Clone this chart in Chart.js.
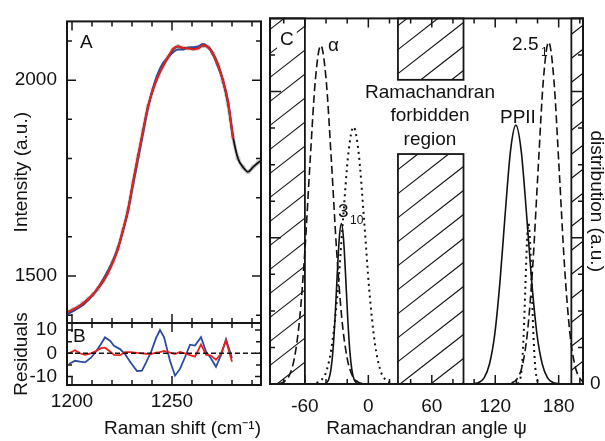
<!DOCTYPE html>
<html>
<head>
<meta charset="utf-8">
<script src="https://cdn.jsdelivr.net/npm/chart.js@4.4.0/dist/chart.umd.min.js"></script>
<style>
  html, body { margin: 0; padding: 0; background: #fff; overflow: hidden; }
  #wrap { position: relative; width: 605px; height: 441px; overflow: hidden; background: #fff; }
  #wrap canvas { position: absolute; left: 0; top: 0; }
</style>
</head>
<body>
<div id="wrap">
  <canvas id="chartA" width="605" height="441"></canvas>
  <canvas id="chartB" width="605" height="441"></canvas>
  <canvas id="chartC" width="612" height="441"></canvas>
</div>
<script>
// ---- panel A: Raman spectrum (data + two fits) ----
const specX = [1198, 1200.5, 1203, 1205.5, 1208, 1210.5, 1213, 1215.5, 1218, 1220.5,
  1223, 1225.5, 1228, 1230.5, 1233, 1235.5, 1238, 1240.5, 1243, 1245.5,
  1248, 1250.5, 1253, 1255.5, 1258, 1260.5, 1263, 1265.5, 1268, 1270.5,
  1273, 1275.5, 1278, 1280.5, 1283, 1285.5, 1288, 1290.5, 1293, 1295.5];
const specData = [1408, 1414, 1421, 1430, 1441, 1453, 1468, 1486, 1508, 1537,
  1571, 1617, 1668, 1738, 1805, 1870, 1932, 1976, 2010, 2036,
  2058, 2078, 2086, 2082, 2082, 2080, 2082, 2088, 2085, 2068,
  2040, 1998, 1940, 1855, 1800, 1778, 1766, 1778, 1789, 1798];
const fitBlue = [1403, 1410, 1418, 1426, 1438, 1452, 1470, 1491, 1514, 1540,
  1573, 1617, 1666, 1733, 1797, 1864, 1930, 1980, 2018, 2044,
  2058, 2071, 2078, 2078, 2083, 2084, 2086, 2092, 2084, 2065,
  2034, 1999, 1945, 1853];
const fitRed = [1408, 1415, 1421, 1430, 1440, 1453, 1470, 1488, 1509, 1536,
  1570, 1617, 1669, 1738, 1805, 1870, 1932, 1976, 2010, 2037,
  2059, 2080, 2086, 2082, 2081, 2079, 2081, 2090, 2084, 2067,
  2037, 1999, 1945, 1851];
const intensityTicks = [1500, 2000];
const intensityMinor = [1400, 1600, 1700, 1800, 1900, 2100];

// ---- panel B: residuals ----
const residX = [1198.5, 1201.5, 1204, 1206.5, 1209.5, 1212, 1214.5, 1216.5, 1219, 1221,
  1224, 1226.5, 1229.5, 1232.5, 1235, 1237, 1239.5, 1242, 1244, 1246,
  1249, 1251.5, 1254, 1256.5, 1259, 1261.5, 1264.5, 1267, 1269.5, 1272,
  1274.5, 1277, 1280];
const residBlue = [-4.6, -3.2, -3.6, -3.9, -1.9, 0.8, 4.0, 6.9, 5.4, 3.2,
  1.8, -0.3, -4.2, -7.6, -7.4, -4.0, 0.5, 6.5, 10.0, 7.0,
  -3.2, -9.6, -6.7, -1.7, 3.7, 3.3, 6.9, 0.8, -2.2, -5.8,
  -0.8, 6.0, -2.0];
const residRed = [0, 1.3, 0, -0.7, 0, 1.0, 2.2, 2.4, 0.8, -0.7,
  -0.8, 0.5, 0.5, 0.2, 0, -0.2, -0.3, 0.3, 0.5, 1.0,
  0.3, -0.3, 0.6, 0, -0.8, -1.4, 3.8, -0.6, -1.0, -2.8,
  -0.2, 5.5, -3.6];
const residTicks = [-10, 0, 10];
const residMinor = [-5, 5];
const ramanTicks = [1200, 1250];
const ramanMinor = [1210, 1220, 1230, 1240, 1260, 1270, 1280, 1290];

// ---- panel C: distributions over Ramachandran angle psi ----
const alphaPsi = [-85, -80, -75, -70, -65, -60, -55, -50, -45, -40, -35, -30, -25, -20, -15, -10, -5];
const alphaVal = [0.001, 0.006, 0.022, 0.070, 0.177, 0.365, 0.613, 0.835, 0.926, 0.835, 0.613, 0.365, 0.177, 0.070, 0.022, 0.006, 0.001];
const h310Psi = [-49, -44, -39, -34, -29, -24, -19, -14, -9, -4, 1, 6, 11, 16, 21];
const h310Val = [0.003, 0.012, 0.041, 0.115, 0.253, 0.447, 0.628, 0.703, 0.628, 0.447, 0.253, 0.115, 0.041, 0.012, 0.003];
const s310Psi = [-41.5, -39.5, -37.5, -35.5, -33.5, -31.5, -29.5, -27.5, -25.5, -23.5, -21.5, -19.5, -17.5, -15.5, -13.5, -11.5, -9.5];
const s310Val = [0.001, 0.0035, 0.0125, 0.037, 0.090, 0.180, 0.296, 0.398, 0.439, 0.398, 0.296, 0.180, 0.090, 0.037, 0.0125, 0.0035, 0.001];
const ppiiPsi = [99.5, 104.5, 109.5, 114.5, 119.5, 124.5, 129.5, 134.5, 139.5, 144.5, 149.5, 154.5, 159.5, 164.5, 169.5, 174.5, 179.5];
const ppiiVal = [0.001, 0.0045, 0.017, 0.054, 0.135, 0.280, 0.469, 0.639, 0.708, 0.639, 0.469, 0.280, 0.135, 0.054, 0.017, 0.0045, 0.001];
const h251Psi = [135.5, 140.5, 145.5, 150.5, 155.5, 160.5, 165.5, 170.5, 175.5, 180.5, 185.5, 190.5, 195.5, 200.5, 205.5];
const h251Val = [0.003, 0.0135, 0.049, 0.142, 0.324, 0.584, 0.831, 0.935, 0.831, 0.584, 0.324, 0.142, 0.049, 0.0135, 0.003];
const narrowPsi = [141, 142.5, 144, 145.5, 147, 148.5, 150, 151.5, 153, 154.5, 156, 157.5, 159, 160.5, 162];
const narrowVal = [0.001, 0.005, 0.019, 0.059, 0.143, 0.266, 0.387, 0.439, 0.387, 0.266, 0.143, 0.059, 0.019, 0.005, 0.001];
const psiTicks = [-60, 0, 60, 120, 180];
const psiMinor = [-80, -40, -20, 20, 40, 80, 100, 140, 160, 200];
const distTicks = [0];
const distMajor = [0.4, 0.8];
const distMinor = [0.1, 0.2, 0.3, 0.5, 0.6, 0.7, 0.9];
// forbidden psi ranges [from, to, lowValue, highValue]
const forbidden = [[-93, -60, 0, 1], [28, 90, 0.832, 1], [28, 90, 0, 0.629], [192, 203, 0, 1]];

const FONT = '"Liberation Sans", Arial, sans-serif';
Chart.defaults.font.family = FONT;
Chart.defaults.font.size = 19;
Chart.defaults.color = '#111';
Chart.defaults.animation = false;
Chart.defaults.plugins.legend.display = false;
Chart.defaults.plugins.tooltip.enabled = false;

const pts = (xs, ys) => ys.map((y, i) => ({ x: xs[i], y: y }));
const setTicks = vals => s => { s.ticks = vals.map(v => ({ value: v })); };
const INK = '#161616';

// inward ticks on all four sides + frame
const framePlugin = {
  id: 'frame',
  afterDatasetsDraw(chart, args, o) {
    const { ctx, chartArea: a, scales } = chart;
    const xs = scales.x, ys = scales.y;
    ctx.save();
    ctx.strokeStyle = INK;
    ctx.lineWidth = 1.5;
    ctx.beginPath();
    const mark = (vals, len, horiz) => vals.forEach(v => {
      if (horiz) {
        const p = xs.getPixelForValue(v);
        ctx.moveTo(p, a.top); ctx.lineTo(p, a.top + len);
        ctx.moveTo(p, a.bottom); ctx.lineTo(p, a.bottom - len);
      } else {
        const p = ys.getPixelForValue(v);
        ctx.moveTo(a.left, p); ctx.lineTo(a.left + len, p);
        ctx.moveTo(a.right, p); ctx.lineTo(a.right - len, p);
      }
    });
    mark(o.xMinor, o.minorLen, true);
    mark(o.xMajor, o.majorLen, true);
    mark(o.yMinor, o.minorLen, false);
    mark(o.yMajor, o.yMajorLen || o.majorLen, false);
    ctx.stroke();
    ctx.lineWidth = 2;
    ctx.strokeRect(a.left, a.top, a.right - a.left, a.bottom - a.top);
    if (o.zero) {
      const p = ys.getPixelForValue(0);
      ctx.lineWidth = 1.5;
      ctx.setLineDash([5, 3]);
      ctx.beginPath(); ctx.moveTo(a.left, p); ctx.lineTo(a.right, p); ctx.stroke();
    }
    ctx.restore();
  }
};

// hatched "forbidden" regions
const hatchPlugin = {
  id: 'hatch',
  beforeDatasetsDraw(chart, args, o) {
    if (!o.boxes) return;
    const { ctx, scales: { x, y } } = chart;
    ctx.save();
    ctx.strokeStyle = INK;
    o.boxes.forEach(b => {
      const x0 = x.getPixelForValue(b[0]), x1 = x.getPixelForValue(b[1]);
      const y0 = y.getPixelForValue(b[3]), y1 = y.getPixelForValue(b[2]);
      ctx.save();
      ctx.beginPath(); ctx.rect(x0, y0, x1 - x0, y1 - y0); ctx.clip();
      ctx.lineWidth = 1.2;
      ctx.beginPath();
      for (let c = 0; c < 1400; c += o.gap) {
        ctx.moveTo(x0, c - o.slope * x0);
        ctx.lineTo(x1, c - o.slope * x1);
      }
      ctx.stroke();
      ctx.restore();
      ctx.lineWidth = 1.8;
      ctx.strokeRect(x0, y0, x1 - x0, y1 - y0);
    });
    ctx.restore();
  }
};

// text labels anchored in data coordinates
const notesPlugin = {
  id: 'notes',
  afterDraw(chart, args, o) {
    if (!o.items) return;
    const { ctx, scales: { x, y } } = chart;
    ctx.save();
    o.items.forEach(n => {
      const size = n.size || 19;
      ctx.font = size + 'px ' + FONT;
      ctx.textAlign = n.align || 'left';
      ctx.textBaseline = 'alphabetic';
      const px = x.getPixelForValue(n.x), py = y.getPixelForValue(n.y);
      if (n.box) {
        const w = ctx.measureText(n.text).width;
        ctx.fillStyle = '#fff';
        ctx.fillRect(px - 3, py - size * 0.85, w + 6, size + 1);
      }
      ctx.fillStyle = '#111';
      ctx.fillText(n.text, px, py);
    });
    ctx.restore();
  }
};

const noGrid = { display: false, drawTicks: false };
const noBorder = { display: false };

// Panel A
new Chart(document.getElementById('chartA'), {
  type: 'line',
  data: {
    datasets: [
      { data: pts(specX, fitRed), borderColor: '#e4211c', borderWidth: 2 },
      { data: pts(specX, fitBlue), borderColor: '#2d4b9e', borderWidth: 2 },
      { data: pts(specX, specData), borderColor: '#111', borderWidth: 1.8 },
      { data: pts(specX, specData), borderColor: '#c8c8c8', borderWidth: 3.6,
        pointRadius: 2, pointBackgroundColor: '#e6e6e6', pointBorderColor: '#b8b8b8', pointBorderWidth: 1 }
    ]
  },
  options: {
    responsive: false,
    devicePixelRatio: 1,
    layout: { padding: { left: 0, top: 15, right: 344, bottom: 118 } },
    elements: { point: { radius: 0 }, line: { cubicInterpolationMode: 'monotone' } },
    scales: {
      x: { type: 'linear', display: false, min: 1197.5, max: 1294.5 },
      y: {
        min: 1380, max: 2150,
        grid: noGrid, border: noBorder,
        afterFit: s => { s.width = 67; },
        afterBuildTicks: setTicks(intensityTicks),
        ticks: { padding: 10, callback: v => String(v) },
        title: { display: true, text: 'Intensity (a.u.)', padding: { top: 10, bottom: 0 } }
      }
    },
    plugins: {
      frame: { xMajor: ramanTicks, xMinor: ramanMinor, yMajor: intensityTicks, yMinor: intensityMinor, majorLen: 9, minorLen: 5 },
      notes: { items: [{ text: 'A', x: 1204, y: 2082 }] }
    }
  },
  plugins: [framePlugin, notesPlugin]
});

// Panel B
new Chart(document.getElementById('chartB'), {
  type: 'line',
  data: {
    datasets: [
      { data: pts(residX, residRed), borderColor: '#e4211c', borderWidth: 1.8 },
      { data: pts(residX, residBlue), borderColor: '#2d4b9e', borderWidth: 1.8 }
    ]
  },
  options: {
    responsive: false,
    devicePixelRatio: 1,
    layout: { padding: { left: 0, top: 323, right: 344, bottom: 0 } },
    elements: { point: { radius: 0 }, line: { tension: 0 } },
    scales: {
      x: {
        type: 'linear', min: 1197.5, max: 1294.5,
        grid: noGrid, border: noBorder,
        afterFit: s => { s.height = 56; },
        afterBuildTicks: setTicks(ramanTicks),
        ticks: { padding: 5, maxRotation: 0, autoSkip: false, callback: v => String(v) },
        title: { display: true, text: 'Raman shift (cm\u207B\u00B9)', align: 'end', padding: { top: 0, bottom: 1 } }
      },
      y: {
        min: -13.6, max: 13,
        grid: noGrid, border: noBorder,
        afterFit: s => { s.width = 67; },
        afterBuildTicks: setTicks(residTicks),
        ticks: { padding: 10, callback: v => String(v) },
        title: { display: true, text: 'Residuals', padding: { top: 10, bottom: 0 } }
      }
    },
    plugins: {
      frame: { xMajor: ramanTicks, xMinor: ramanMinor, yMajor: residTicks, yMinor: residMinor, majorLen: 9, yMajorLen: 6, minorLen: 5, zero: true },
      notes: { items: [{ text: 'B', x: 1200.5, y: 4.9 }] }
    }
  },
  plugins: [framePlugin, notesPlugin]
});

// Panel C
const solid = { borderColor: '#111', borderWidth: 1.6 };
const dashed = { borderColor: '#111', borderWidth: 1.6, borderDash: [8, 4] };
const dotted = { borderColor: '#111', borderWidth: 2, borderDash: [2, 4] };
new Chart(document.getElementById('chartC'), {
  type: 'line',
  data: {
    datasets: [
      Object.assign({ data: pts(alphaPsi, alphaVal) }, dashed),
      Object.assign({ data: pts(h310Psi, h310Val) }, dotted),
      Object.assign({ data: pts(s310Psi, s310Val) }, solid),
      Object.assign({ data: pts(ppiiPsi, ppiiVal) }, solid),
      Object.assign({ data: pts(h251Psi, h251Val) }, dashed),
      Object.assign({ data: pts(narrowPsi, narrowVal) }, dotted)
    ]
  },
  options: {
    responsive: false,
    devicePixelRatio: 1,
    layout: { padding: { left: 270, top: 15, right: 0, bottom: 0 } },
    elements: { point: { radius: 0 }, line: { cubicInterpolationMode: 'monotone' } },
    scales: {
      x: {
        type: 'linear', min: -93, max: 203,
        grid: noGrid, border: noBorder,
        afterFit: s => { s.height = 57; },
        afterBuildTicks: setTicks(psiTicks),
        ticks: { padding: 11, maxRotation: 0, autoSkip: false },
        title: { display: true, text: 'Ramachandran angle \u03C8', padding: { top: 0, bottom: 1 } }
      },
      y: {
        position: 'right', min: 0, max: 1,
        grid: noGrid, border: noBorder,
        afterFit: s => { s.width = 29; },
        afterBuildTicks: setTicks(distTicks),
        ticks: { padding: 7, callback: v => String(v) },
        title: { display: true, text: 'distribution (a.u.)', padding: { top: 4, bottom: 0 } }
      }
    },
    plugins: {
      hatch: { boxes: forbidden, slope: 0.78, gap: 24 },
      frame: { xMajor: psiTicks, xMinor: psiMinor, yMajor: distMajor, yMinor: distMinor, majorLen: 9, yMajorLen: 11, minorLen: 5 },
      notes: {
        items: [
          { text: 'C', x: -83.5, y: 0.927, box: true },
          { text: '\u03B1', x: -38.1, y: 0.911 },
          { text: '3', x: -28.7, y: 0.458 },
          { text: '10', x: -17.3, y: 0.439, size: 12 },
          { text: '2.5', x: 135.9, y: 0.913 },
          { text: '1', x: 163.3, y: 0.897, size: 12 },
          { text: 'PPII', x: 124.5, y: 0.715 },
          { text: 'Ramachandran', x: 58.3, y: 0.783, align: 'center' },
          { text: 'forbidden', x: 58.3, y: 0.718, align: 'center' },
          { text: 'region', x: 58.3, y: 0.653, align: 'center' }
        ]
      }
    }
  },
  plugins: [hatchPlugin, framePlugin, notesPlugin]
});
</script>
</body>
</html>
